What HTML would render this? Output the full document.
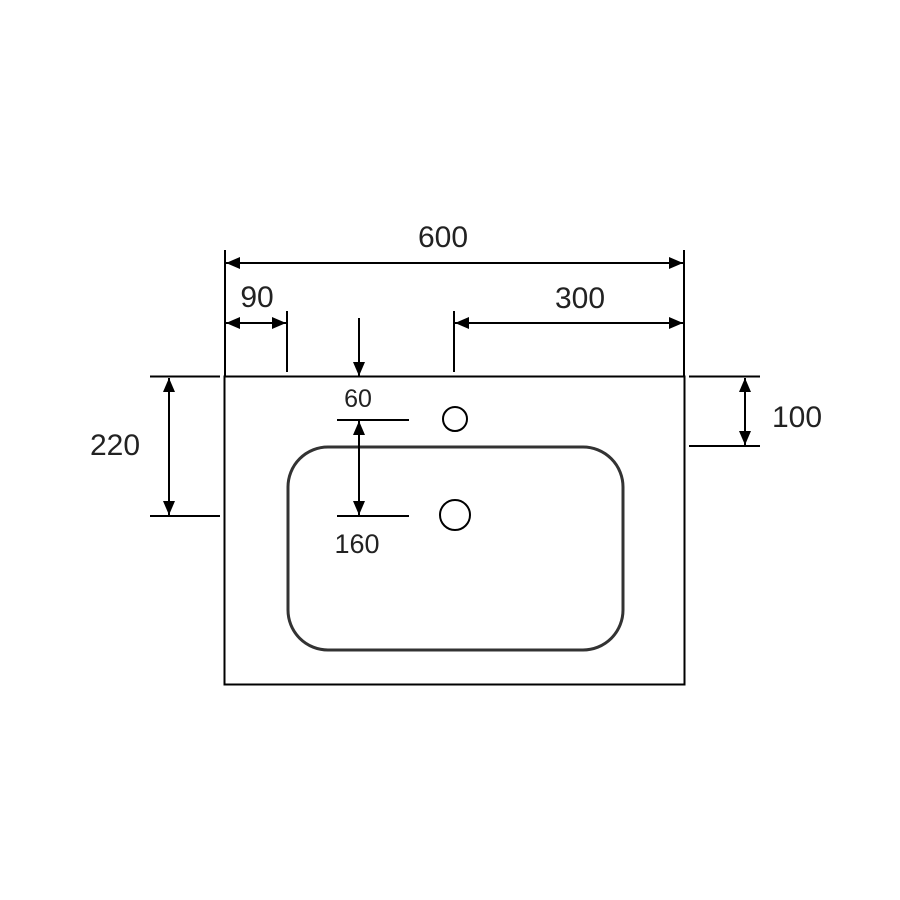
<!DOCTYPE html>
<html><head><style>body{margin:0;background:#fff}svg{display:block}</style></head><body>
<svg width="900" height="900" viewBox="0 0 900 900" xmlns="http://www.w3.org/2000/svg">
<defs>
<marker id="a" viewBox="0 0 14 12" refX="14" refY="6" markerWidth="14" markerHeight="12" markerUnits="userSpaceOnUse" orient="auto-start-reverse"><path d="M0,0 L14,6 L0,12 z" fill="#000"/></marker>
</defs>
<g stroke="#000" stroke-width="2" fill="none">
<rect x="224.5" y="376.5" width="460" height="308"/>
<rect x="288" y="447" width="335" height="203" rx="40" stroke="#333" stroke-width="3"/>
<circle cx="455" cy="419" r="12"/>
<circle cx="455" cy="515" r="15"/>
<line x1="225" y1="250" x2="225" y2="376"/>
<line x1="684" y1="250" x2="684" y2="376"/>
<line x1="226" y1="263" x2="683" y2="263" marker-start="url(#a)" marker-end="url(#a)"/>
<line x1="287" y1="311" x2="287" y2="372"/>
<line x1="226" y1="323" x2="286" y2="323" marker-start="url(#a)" marker-end="url(#a)"/>
<line x1="359" y1="318" x2="359" y2="376" marker-end="url(#a)"/>
<line x1="454" y1="311" x2="454" y2="372"/>
<line x1="455" y1="323" x2="683" y2="323" marker-start="url(#a)" marker-end="url(#a)"/>
<line x1="150" y1="376.5" x2="220" y2="376.5"/>
<line x1="150" y1="516" x2="220" y2="516"/>
<line x1="169" y1="378" x2="169" y2="515" marker-start="url(#a)" marker-end="url(#a)"/>
<line x1="689" y1="376.5" x2="760" y2="376.5"/>
<line x1="689" y1="446" x2="760" y2="446"/>
<line x1="745" y1="378" x2="745" y2="445" marker-start="url(#a)" marker-end="url(#a)"/>
<line x1="337" y1="420" x2="409" y2="420"/>
<line x1="337" y1="516" x2="409" y2="516"/>
<line x1="359" y1="421" x2="359" y2="515" marker-start="url(#a)" marker-end="url(#a)"/>
</g>
<g font-family="Liberation Sans, sans-serif" fill="#222" text-anchor="middle">
<text x="443" y="247" font-size="30">600</text>
<text x="257" y="307" font-size="30">90</text>
<text x="580" y="308" font-size="30">300</text>
<text x="115" y="455" font-size="30">220</text>
<text x="797" y="427" font-size="30">100</text>
<text x="358" y="407" font-size="25">60</text>
<text x="357" y="553" font-size="27">160</text>
</g>
</svg>
</body></html>
